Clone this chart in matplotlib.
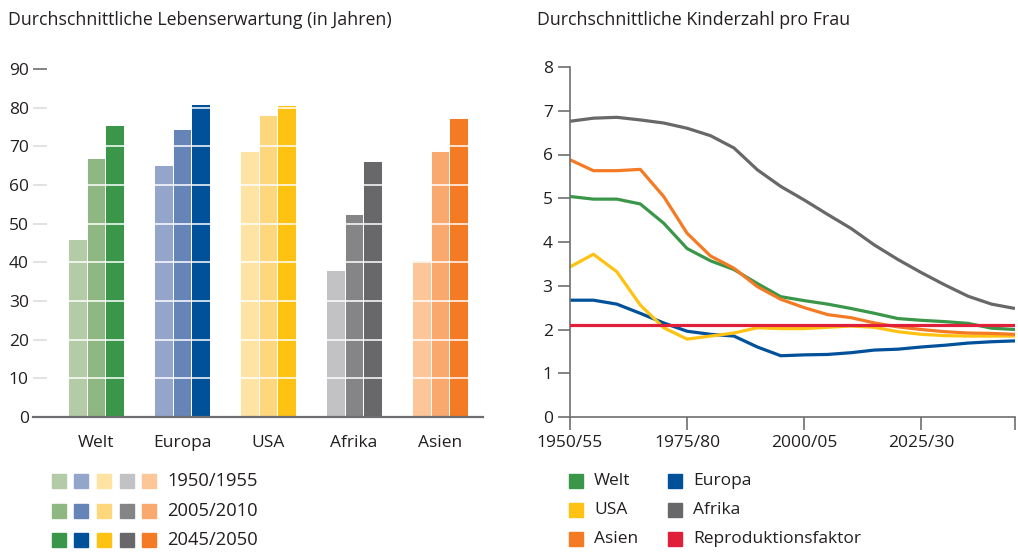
import matplotlib.pyplot as plt
from matplotlib.patches import Rectangle

plt.rcParams['font.family'] = ['Open Sans', 'DejaVu Sans']
TXT = '#231f20'
AXC = '#6d6e71'
FS = 12.5

# Lebenserwartung (Jahre) je Region und Zeitraum
regionen = ['Welt', 'Europa', 'USA', 'Afrika', 'Asien']
zeitraeume = ['1950/1955', '2005/2010', '2045/2050']
le_1950 = [46.1, 65.3, 68.7, 38.1, 40.7]
le_2005 = [67.0, 74.4, 78.0, 52.5, 68.9]
le_2045 = [75.6, 80.9, 80.6, 66.2, 77.3]

farben = {
    'Welt':   ['#b3cba6', '#8fb781', '#3a9648'],
    'Europa': ['#94a5cc', '#6584b8', '#00519a'],
    'USA':    ['#fee3a2', '#fed77c', '#fec312'],
    'Afrika': ['#c2c2c4', '#858588', '#68686a'],
    'Asien':  ['#fdc699', '#f9a96e', '#f47a24'],
}

# Kinderzahl pro Frau, Fünfjahreszeiträume 1950/55 bis 2045/50
perioden = ['1950/55', '1955/60', '1960/65', '1965/70', '1970/75', '1975/80',
            '1980/85', '1985/90', '1990/95', '1995/00', '2000/05', '2005/10',
            '2010/15', '2015/20', '2020/25', '2025/30', '2030/35', '2035/40',
            '2040/45', '2045/50']
kz_welt = [5.04, 4.98, 4.98, 4.87, 4.43, 3.85, 3.57, 3.37, 3.05, 2.75,
           2.66, 2.58, 2.48, 2.37, 2.25, 2.21, 2.18, 2.14, 2.03, 2.00]
kz_europa = [2.67, 2.67, 2.58, 2.37, 2.15, 1.96, 1.89, 1.85, 1.60, 1.40,
             1.42, 1.43, 1.47, 1.53, 1.55, 1.60, 1.64, 1.69, 1.72, 1.74]
kz_usa = [3.43, 3.72, 3.32, 2.56, 2.04, 1.78, 1.85, 1.92, 2.04, 2.02,
          2.02, 2.05, 2.08, 2.05, 1.95, 1.89, 1.86, 1.85, 1.85, 1.85]
kz_afrika = [6.76, 6.83, 6.85, 6.79, 6.72, 6.60, 6.43, 6.15, 5.65, 5.27,
             4.96, 4.63, 4.31, 3.93, 3.60, 3.30, 3.02, 2.76, 2.58, 2.48]
kz_asien = [5.88, 5.63, 5.63, 5.66, 5.04, 4.20, 3.68, 3.40, 2.98, 2.69,
            2.50, 2.34, 2.27, 2.15, 2.06, 2.00, 1.95, 1.92, 1.91, 1.89]
reproduktion = 2.11

W, H = 1018, 552
fig = plt.figure(figsize=(W / 100, H / 100), dpi=100)


def fx(x):
    return x / W


def fy(y):
    return 1 - y / H


def box(x0, y0, x1, y1):
    return [fx(x0), fy(y1), fx(x1) - fx(x0), fy(y0) - fy(y1)]


# ---------- linke Grafik: Balken ----------
ax1 = fig.add_axes(box(33, 69, 483, 417))
bw = 0.217
for i, reg in enumerate(regionen):
    werte = [le_1950[i], le_2005[i], le_2045[i]]
    for j, v in enumerate(werte):
        ax1.bar(i + (j - 1) * bw, v, width=bw, color=farben[reg][j],
                edgecolor='white', linewidth=0.7, zorder=1)
for v in range(10, 90, 10):
    ax1.axhline(v, color='white', lw=1.1, zorder=2)
ax1.set_xlim(-0.733, 4.5)
ax1.set_ylim(0, 90)
ax1.set_yticks(range(0, 100, 10))
ax1.set_xticks(range(len(regionen)))
ax1.set_xticklabels(regionen)
for s in ['top', 'right', 'left']:
    ax1.spines[s].set_visible(False)
ax1.spines['bottom'].set_color(AXC)
ax1.spines['bottom'].set_linewidth(1.6)
ax1.spines['bottom'].set_zorder(4)
ax1.tick_params(axis='y', direction='in', length=10, width=1.2, color=AXC,
                pad=3, labelsize=FS, labelcolor=TXT)
ax1.tick_params(axis='x', length=0, pad=13, labelsize=FS, labelcolor=TXT)
fig.text(fx(8), fy(20), 'Durchschnittliche Lebenserwartung (in Jahren)',
         fontsize=12.8, color=TXT, va='center', ha='left')

# Legende links
sq = 14
for r, zr in enumerate(zeitraeume):
    yc = [481, 511, 540][r]
    for k, reg in enumerate(regionen):
        x0 = [52, 74, 97, 120, 142][k]
        fig.patches.append(Rectangle((fx(x0), fy(yc + sq / 2)), fx(sq), sq / H,
                                     transform=fig.transFigure,
                                     color=farben[reg][r]))
    fig.text(fx(167), fy(yc), zr, fontsize=13.2, color=TXT, va='center')

# ---------- rechte Grafik: Linien ----------
ax2 = fig.add_axes(box(570, 67, 1015, 417))
x = range(len(perioden))
serien = [('Welt', kz_welt, '#3a9648'), ('Europa', kz_europa, '#00519a'),
          ('USA', kz_usa, '#fec312'), ('Afrika', kz_afrika, '#68686a'),
          ('Asien', kz_asien, '#f47a24')]
ax2.plot(x, [reproduktion] * len(perioden), color='#e0203a', lw=2.3, zorder=3)
for name, werte, c in serien:
    ax2.plot(x, werte, color=c, lw=2.3, zorder=2, solid_capstyle='butt')
ax2.set_xlim(0, len(perioden) - 1)
ax2.set_ylim(0, 8)
ax2.set_yticks(range(0, 9))
ax2.set_xticks([0, 5, 10, 15, 19])
ax2.set_xticklabels([perioden[0], perioden[5], perioden[10], perioden[15], ''])
for s in ['top', 'right']:
    ax2.spines[s].set_visible(False)
for s in ['left', 'bottom']:
    ax2.spines[s].set_color(AXC)
    ax2.spines[s].set_linewidth(1.2)
ax2.tick_params(direction='out', length=9, width=1.2, color=AXC,
                labelsize=FS, labelcolor=TXT)
ax2.tick_params(axis='x', pad=4)
fig.text(fx(537), fy(20), 'Durchschnittliche Kinderzahl pro Frau',
         fontsize=12.8, color=TXT, va='center', ha='left')

# Legende rechts
leg = [('Welt', '#3a9648'), ('Europa', '#00519a'), ('USA', '#fec312'),
       ('Afrika', '#68686a'), ('Asien', '#f47a24'),
       ('Reproduktionsfaktor', '#e0203a')]
for k, (name, c) in enumerate(leg):
    col, row = k % 2, k // 2
    yc = [481, 510, 539][row]
    x0 = [569, 668][col]
    fig.patches.append(Rectangle((fx(x0), fy(yc + sq / 2)), fx(sq), sq / H,
                                 transform=fig.transFigure, color=c))
    fig.text(fx(x0 + 25), fy(yc), name, fontsize=FS, color=TXT, va='center')

fig.savefig('out.png', dpi=100)
